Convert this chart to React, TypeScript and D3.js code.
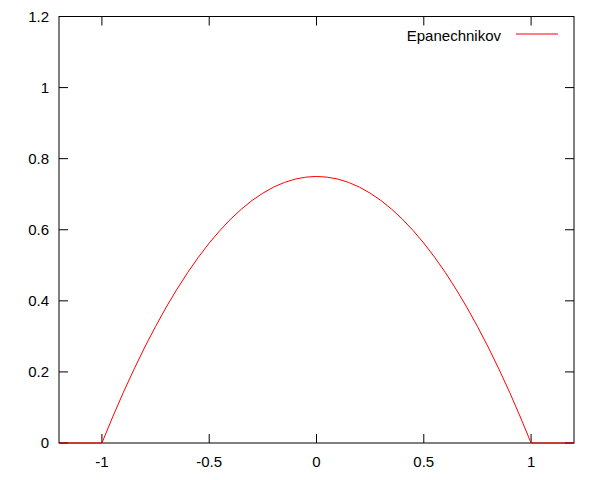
import * as d3 from "d3";
import React, { useEffect, useRef } from "react";

// points (x, density)
const kernelX = [
  -1.2, -1, -0.95, -0.9, -0.85, -0.8, -0.75, -0.7, -0.65, -0.6, -0.55, -0.5,
  -0.45, -0.4, -0.35, -0.3, -0.25, -0.2, -0.15, -0.1, -0.05, 0, 0.05, 0.1,
  0.15, 0.2, 0.25, 0.3, 0.35, 0.4, 0.45, 0.5, 0.55, 0.6, 0.65, 0.7, 0.75, 0.8,
  0.85, 0.9, 0.95, 1, 1.2,
];
const kernelY = [
  0, 0, 0.073, 0.1425, 0.208, 0.27, 0.328, 0.3825, 0.433, 0.48, 0.523, 0.5625,
  0.598, 0.63, 0.658, 0.6825, 0.703, 0.72, 0.733, 0.7425, 0.748, 0.75, 0.748,
  0.7425, 0.733, 0.72, 0.703, 0.6825, 0.658, 0.63, 0.598, 0.5625, 0.523, 0.48,
  0.433, 0.3825, 0.328, 0.27, 0.208, 0.1425, 0.073, 0, 0,
];
const xTicks = [-1, -0.5, 0, 0.5, 1];
const yTicks = [0, 0.2, 0.4, 0.6, 0.8, 1, 1.2];
const seriesName = "Epanechnikov";

export default function App() {
  const ref = useRef<SVGSVGElement>(null);

  useEffect(() => {
    const width = 600;
    const height = 480;
    const margin = { top: 16.5, right: 26, bottom: 37, left: 59 };
    const svg = d3.select(ref.current);
    svg.selectAll("*").remove();
    svg.attr("width", width).attr("height", height);

    const x = d3
      .scaleLinear()
      .domain([-1.2, 1.2])
      .range([margin.left, width - margin.right]);
    const y = d3
      .scaleLinear()
      .domain([0, 1.2])
      .range([height - margin.bottom, margin.top]);

    const font = "'Liberation Sans', Arial, sans-serif";
    const fs = 15;
    const tickLen = 9;
    const g = svg.append("g");

    // ticks on all four sides (mirrored)
    xTicks.forEach((t) => {
      g.append("line")
        .attr("x1", x(t)).attr("x2", x(t))
        .attr("y1", y(0)).attr("y2", y(0) - tickLen)
        .attr("stroke", "#000").attr("stroke-width", 1);
      g.append("line")
        .attr("x1", x(t)).attr("x2", x(t))
        .attr("y1", y(1.2)).attr("y2", y(1.2) + tickLen)
        .attr("stroke", "#000").attr("stroke-width", 1);
      g.append("text")
        .attr("x", x(t))
        .attr("y", y(0) + 24)
        .attr("text-anchor", "middle")
        .attr("font-family", font)
        .attr("font-size", fs)
        .text(String(t));
    });
    yTicks.forEach((t) => {
      g.append("line")
        .attr("x1", x(-1.2)).attr("x2", x(-1.2) + tickLen)
        .attr("y1", y(t)).attr("y2", y(t))
        .attr("stroke", "#000").attr("stroke-width", 1);
      g.append("line")
        .attr("x1", x(1.2)).attr("x2", x(1.2) - tickLen)
        .attr("y1", y(t)).attr("y2", y(t))
        .attr("stroke", "#000").attr("stroke-width", 1);
      g.append("text")
        .attr("x", x(-1.2) - 10)
        .attr("y", y(t))
        .attr("dy", "0.35em")
        .attr("text-anchor", "end")
        .attr("font-family", font)
        .attr("font-size", fs)
        .text(String(t));
    });

    // frame
    g.append("rect")
      .attr("x", x(-1.2))
      .attr("y", y(1.2))
      .attr("width", x(1.2) - x(-1.2))
      .attr("height", y(0) - y(1.2))
      .attr("fill", "none")
      .attr("stroke", "#000")
      .attr("stroke-width", 1);

    // curve
    const pts: [number, number][] = kernelX.map((v, i) => [v, kernelY[i]]);
    const line = d3
      .line<[number, number]>()
      .x((d) => x(d[0]))
      .y((d) => y(d[1]));
    g.append("path")
      .attr("d", line(pts))
      .attr("fill", "none")
      .attr("stroke", "#ff0000")
      .attr("stroke-width", 1);

    // legend
    const ly = 34;
    g.append("text")
      .attr("x", 501)
      .attr("y", 41)
      .attr("text-anchor", "end")
      .attr("font-family", font)
      .attr("font-size", fs)
      .text(seriesName);
    g.append("line")
      .attr("x1", 516).attr("x2", 558)
      .attr("y1", ly).attr("y2", ly)
      .attr("stroke", "#ff0000")
      .attr("stroke-width", 1);
  }, []);

  return (
    <div style={{ width: 600, height: 480, margin: -8 }}>
      <svg ref={ref} style={{ display: "block" }} />
    </div>
  );
}
